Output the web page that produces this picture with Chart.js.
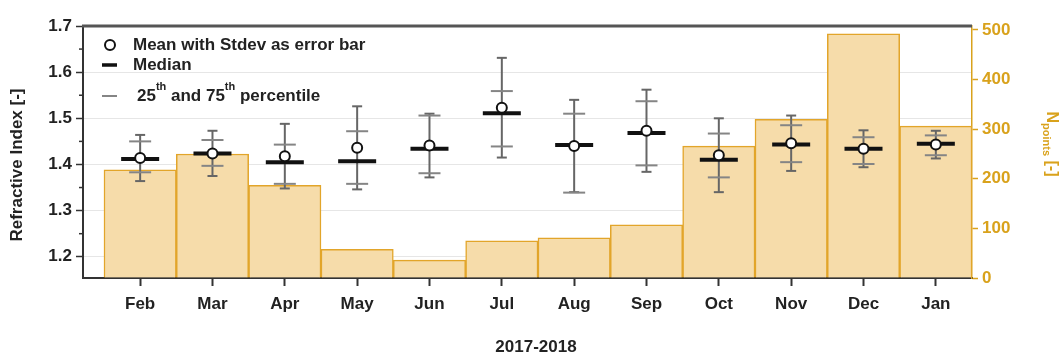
<!DOCTYPE html>
<html>
<head>
<meta charset="utf-8">
<script src="https://cdn.jsdelivr.net/npm/chart.js@4.4.1/dist/chart.umd.min.js"></script>
<style>
  html, body { margin: 0; padding: 0; background: #ffffff; }
  #wrap { width: 1064px; height: 356px; position: relative; }
</style>
</head>
<body>
<div id="wrap"><canvas id="c"></canvas></div>
<script>
// Monthly refractive index statistics, 2017-2018
const months = ['Feb', 'Mar', 'Apr', 'May', 'Jun', 'Jul', 'Aug', 'Sep', 'Oct', 'Nov', 'Dec', 'Jan'];
const meanRI   = [1.414, 1.424, 1.418, 1.436, 1.441, 1.523, 1.440, 1.473, 1.420, 1.446, 1.434, 1.443];
const stdevRI  = [0.050, 0.049, 0.070, 0.090, 0.069, 0.108, 0.100, 0.089, 0.080, 0.060, 0.040, 0.030];
const medianRI = [1.412, 1.424, 1.405, 1.407, 1.434, 1.511, 1.442, 1.468, 1.410, 1.443, 1.434, 1.445];
const p75RI    = [1.450, 1.453, 1.443, 1.472, 1.506, 1.559, 1.510, 1.537, 1.467, 1.485, 1.459, 1.463];
const p25RI    = [1.383, 1.397, 1.358, 1.358, 1.381, 1.439, 1.339, 1.398, 1.372, 1.405, 1.401, 1.420];
const nPoints  = [218, 250, 187, 58, 36, 75, 81, 107, 266, 320, 492, 306];

const riTicks      = [1.2, 1.3, 1.4, 1.5, 1.6, 1.7];
const riMinorTicks = [1.25, 1.35, 1.45, 1.55, 1.65];
const countTicks   = [0, 100, 200, 300, 400, 500];

const FONT = "'Liberation Sans', Arial, Helvetica, sans-serif";
const DARK = '#222222';
const GOLD = '#d9a21c';
const BAR_FILL = '#f6dcaa';
const BAR_EDGE = '#e2a52a';
const WHISKER = '#666666';
const PCT = '#858585';

Chart.defaults.font.family = FONT;

const pts = (arr) => arr.map((v, i) => ({ x: i, y: v }));

// Vertical stdev whiskers, drawn right after the count bars so the markers sit on top
const whiskerPlugin = {
  id: 'whiskers',
  afterDatasetDraw(chart, args) {
    if (args.meta.type !== 'bar') return;
    const { ctx, scales } = chart;
    ctx.save();
    ctx.strokeStyle = WHISKER;
    ctx.lineWidth = 2;
    meanRI.forEach((m, i) => {
      const x = scales.x.getPixelForValue(i);
      ctx.beginPath();
      ctx.moveTo(x, scales.y.getPixelForValue(m + stdevRI[i]));
      ctx.lineTo(x, scales.y.getPixelForValue(m - stdevRI[i]));
      ctx.stroke();
    });
    ctx.restore();
  }
};

// Frame, minor ticks, axis titles and the legend block
const decorPlugin = {
  id: 'decor',
  afterDraw(chart) {
    const { ctx, chartArea: a, scales } = chart;
    ctx.save();

    // top frame line
    ctx.strokeStyle = '#555555';
    ctx.lineWidth = 3;
    ctx.beginPath();
    ctx.moveTo(a.left - 1, a.top);
    ctx.lineTo(a.right, a.top);
    ctx.stroke();

    // minor ticks on the refractive index axis
    ctx.strokeStyle = '#333333';
    ctx.lineWidth = 1.5;
    riMinorTicks.forEach(v => {
      const y = scales.y.getPixelForValue(v);
      ctx.beginPath();
      ctx.moveTo(a.left - 4, y);
      ctx.lineTo(a.left, y);
      ctx.stroke();
    });

    // left axis title
    ctx.fillStyle = DARK;
    ctx.font = 'bold 17px ' + FONT;
    ctx.textAlign = 'center';
    ctx.textBaseline = 'middle';
    ctx.save();
    ctx.translate(17, 165);
    ctx.rotate(-Math.PI / 2);
    ctx.fillText('Refractive Index [-]', 0, 0);
    ctx.restore();

    // bottom axis title
    ctx.font = 'bold 17px ' + FONT;
    ctx.fillText('2017-2018', 536, 347);

    // right axis title: N with "points" subscript
    ctx.save();
    ctx.translate(1051, 144);
    ctx.rotate(Math.PI / 2);
    ctx.fillStyle = GOLD;
    ctx.textAlign = 'left';
    const fMain = 'bold 16px ' + FONT;
    const fSub = 'bold 11px ' + FONT;
    ctx.font = fMain; const wN = ctx.measureText('N').width;
    ctx.font = fSub;  const wS = ctx.measureText('points').width;
    ctx.font = fMain; const wU = ctx.measureText(' [-]').width;
    let x0 = -(wN + wS + wU) / 2;
    ctx.font = fMain; ctx.fillText('N', x0, 0); x0 += wN;
    ctx.font = fSub;  ctx.fillText('points', x0, 5); x0 += wS;
    ctx.font = fMain; ctx.fillText(' [-]', x0, 0);
    ctx.restore();

    // legend
    ctx.textAlign = 'left';
    ctx.textBaseline = 'middle';
    const fB = 'bold 17px ' + FONT, fSup = 'bold 11px ' + FONT;
    ctx.font = fB;
    // mean marker
    ctx.beginPath();
    ctx.arc(110, 45, 5, 0, Math.PI * 2);
    ctx.fillStyle = '#ffffff';
    ctx.fill();
    ctx.strokeStyle = '#111111';
    ctx.lineWidth = 2;
    ctx.stroke();
    ctx.fillStyle = DARK;
    ctx.fillText('Mean with Stdev as error bar', 133, 45);
    // median marker
    ctx.strokeStyle = '#111111';
    ctx.lineWidth = 3.5;
    ctx.beginPath(); ctx.moveTo(102, 65); ctx.lineTo(117, 65); ctx.stroke();
    ctx.fillText('Median', 133, 65);
    // percentile marker
    ctx.strokeStyle = PCT;
    ctx.lineWidth = 2;
    ctx.beginPath(); ctx.moveTo(102, 96); ctx.lineTo(117, 96); ctx.stroke();
    let lx = 137;
    const seg = (txt, font, dy) => { ctx.font = font; ctx.fillText(txt, lx, 96 + dy); lx += ctx.measureText(txt).width; };
    seg('25', fB, 0); seg('th', fSup, -9); seg(' and 75', fB, 0); seg('th', fSup, -9); seg(' percentile', fB, 0);

    ctx.restore();
  }
};

new Chart(document.getElementById('c'), {
  type: 'bar',
  data: {
    datasets: [
      {
        label: 'Mean',
        type: 'scatter',
        data: pts(meanRI),
        yAxisID: 'y',
        pointStyle: 'circle',
        pointRadius: 5,
        borderWidth: 2,
        borderColor: '#111111',
        backgroundColor: '#ffffff',
        order: 0
      },
      {
        label: 'Median',
        type: 'scatter',
        data: pts(medianRI),
        yAxisID: 'y',
        pointStyle: 'line',
        pointRadius: 19,
        borderWidth: 4,
        borderColor: '#111111',
        order: 1
      },
      {
        label: '25th and 75th percentile',
        type: 'scatter',
        data: pts(p25RI).concat(pts(p75RI)),
        yAxisID: 'y',
        pointStyle: 'line',
        pointRadius: 11,
        borderWidth: 2,
        borderColor: PCT,
        order: 2
      },
      {
        label: 'Stdev caps',
        type: 'scatter',
        data: pts(meanRI.map((m, i) => m + stdevRI[i])).concat(pts(meanRI.map((m, i) => m - stdevRI[i]))),
        yAxisID: 'y',
        pointStyle: 'line',
        pointRadius: 5,
        borderWidth: 2,
        borderColor: WHISKER,
        order: 3
      },
      {
        label: 'N points',
        type: 'bar',
        data: pts(nPoints),
        yAxisID: 'y2',
        backgroundColor: BAR_FILL,
        borderColor: BAR_EDGE,
        borderWidth: 1.5,
        barPercentage: 1,
        categoryPercentage: 1,
        order: 10
      }
    ]
  },
  options: {
    responsive: true,
    maintainAspectRatio: false,
    animation: false,
    events: [],
    layout: { padding: { top: 26, left: 0, right: 0, bottom: 0 } },
    plugins: { legend: { display: false }, tooltip: { enabled: false } },
    scales: {
      x: {
        type: 'linear',
        offset: false,
        min: -0.79,
        max: 11.5,
        afterBuildTicks: (axis) => { axis.ticks = months.map((_, i) => ({ value: i })); },
        afterFit: (scale) => { scale.height = 78; },
        ticks: {
          callback: (v) => months[v],
          font: { weight: 'bold', size: 17 },
          color: DARK,
          padding: 8,
          maxRotation: 0,
          autoSkip: false
        },
        grid: { offset: false, drawOnChartArea: false, tickLength: 8, tickColor: '#333333', tickWidth: 2 },
        border: { color: '#333333', width: 2 }
      },
      y: {
        type: 'linear',
        position: 'left',
        min: 1.154,
        max: 1.7,
        afterBuildTicks: (axis) => { axis.ticks = riTicks.map(v => ({ value: v })); },
        afterFit: (scale) => { scale.width = 83; },
        ticks: {
          callback: (v) => v.toFixed(1),
          font: { weight: 'bold', size: 17 },
          color: DARK,
          padding: 4
        },
        grid: { color: '#e6e6e6', lineWidth: 1, tickLength: 7, tickColor: '#333333', tickWidth: 1.5 },
        border: { color: '#333333', width: 2 }
      },
      y2: {
        type: 'linear',
        position: 'right',
        min: 0,
        max: 508,
        afterBuildTicks: (axis) => { axis.ticks = countTicks.map(v => ({ value: v })); },
        afterFit: (scale) => { scale.width = 92; },
        ticks: {
          font: { weight: 'bold', size: 17 },
          color: GOLD,
          padding: 4
        },
        grid: { drawOnChartArea: false, tickLength: 6, tickColor: GOLD, tickWidth: 1.5 },
        border: { color: GOLD, width: 1.5 }
      }
    }
  },
  plugins: [whiskerPlugin, decorPlugin]
});
</script>
</body>
</html>
